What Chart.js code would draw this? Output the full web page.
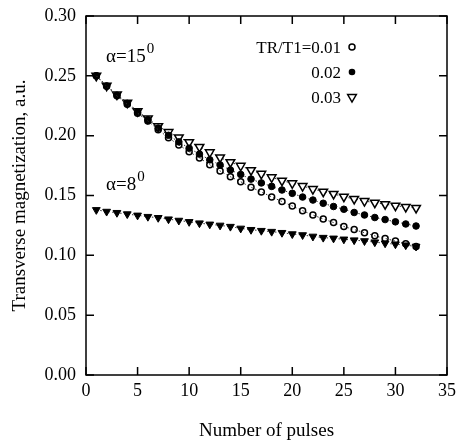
<!DOCTYPE html>
<html>
<head>
<meta charset="utf-8">
<script src="https://cdn.jsdelivr.net/npm/chart.js@4.4.0/dist/chart.umd.min.js"></script>
<style>
  html, body { margin: 0; padding: 0; background: #fff; }
</style>
</head>
<body>
<canvas id="chart" width="457" height="442"></canvas>
<script>
// Data
const pulses = [1, 2, 3, 4, 5, 6, 7, 8, 9, 10, 11, 12, 13, 14, 15, 16,
                17, 18, 19, 20, 21, 22, 23, 24, 25, 26, 27, 28, 29, 30, 31, 32];

// alpha = 15 deg, three TR/T1 ratios
const tr001 = [0.2500, 0.2412, 0.2333, 0.2262, 0.2188, 0.2122, 0.2050, 0.1982,
               0.1922, 0.1866, 0.1814, 0.1757, 0.1705, 0.1657, 0.1615, 0.1569,
               0.1530, 0.1488, 0.1450, 0.1412, 0.1373, 0.1337, 0.1304, 0.1274,
               0.1241, 0.1215, 0.1189, 0.1163, 0.1141, 0.1119, 0.1096, 0.1073];
const tr002 = [0.2500, 0.2415, 0.2338, 0.2270, 0.2197, 0.2133, 0.2063, 0.2003,
               0.1948, 0.1895, 0.1846, 0.1798, 0.1755, 0.1713, 0.1676, 0.1637,
               0.1605, 0.1576, 0.1546, 0.1518, 0.1487, 0.1462, 0.1435, 0.1408,
               0.1385, 0.1358, 0.1337, 0.1316, 0.1299, 0.1280, 0.1262, 0.1245];
const tr003 = [0.2500, 0.2418, 0.2343, 0.2276, 0.2205, 0.2143, 0.2078, 0.2030,
               0.1985, 0.1945, 0.1906, 0.1861, 0.1818, 0.1778, 0.1748, 0.1712,
               0.1681, 0.1652, 0.1624, 0.1602, 0.1579, 0.1554, 0.1532, 0.1513,
               0.1490, 0.1471, 0.1454, 0.1440, 0.1427, 0.1415, 0.1404, 0.1396];
// alpha = 8 deg
const alpha8 = [0.1380, 0.1366, 0.1356, 0.1345, 0.1334, 0.1323, 0.1314, 0.1302,
                0.1291, 0.1280, 0.1269, 0.1259, 0.1250, 0.1240, 0.1225, 0.1214,
                0.1206, 0.1198, 0.1189, 0.1178, 0.1170, 0.1158, 0.1148, 0.1142,
                0.1134, 0.1127, 0.1120, 0.1110, 0.1101, 0.1093, 0.1085, 0.1074];

const legendLabels = ['TR/T1=0.01', '0.02', '0.03'];
const xTicks = [0, 5, 10, 15, 20, 25, 30, 35];
const yTicks = [0, 0.05, 0.10, 0.15, 0.20, 0.25, 0.30];

const FONT = '"Liberation Serif", "Times New Roman", serif';

const toPoints = arr => arr.map((v, i) => ({ x: pulses[i], y: v }));

const lineStyle = {
    showLine: true,
    borderColor: '#333',
    borderWidth: 1,
    borderDash: [1.5, 2.5],
    pointBorderColor: '#000',
    pointHoverRadius: 0
};

// first dataset ends up on top
const datasets = [
    Object.assign({}, lineStyle, {
        label: 'alpha8', data: toPoints(alpha8),
        pointStyle: 'triangle', pointRotation: 180, pointRadius: 4.5,
        pointBackgroundColor: '#000', pointBorderWidth: 1
    }),
    Object.assign({}, lineStyle, {
        label: legendLabels[0], data: toPoints(tr001),
        pointStyle: 'circle', pointRadius: 3,
        pointBackgroundColor: 'rgba(255,255,255,0)', pointBorderWidth: 1.5
    }),
    Object.assign({}, lineStyle, {
        label: legendLabels[1], data: toPoints(tr002),
        pointStyle: 'circle', pointRadius: 3.3,
        pointBackgroundColor: '#000', pointBorderWidth: 1
    }),
    Object.assign({}, lineStyle, {
        label: legendLabels[2], data: toPoints(tr003),
        pointStyle: 'triangle', pointRotation: 180, pointRadius: 5,
        pointBackgroundColor: '#fff', pointBorderWidth: 1.5
    })
];

function drawMarker(ctx, type, x, y) {
    ctx.save();
    ctx.strokeStyle = '#000';
    ctx.beginPath();
    if (type === 'openCircle') {
        ctx.lineWidth = 1.5;
        ctx.fillStyle = '#fff';
        ctx.arc(x, y, 3, 0, Math.PI * 2);
        ctx.fill();
        ctx.stroke();
    } else if (type === 'filledCircle') {
        ctx.fillStyle = '#000';
        ctx.arc(x, y, 3.3, 0, Math.PI * 2);
        ctx.fill();
    } else {
        const r = 5;
        ctx.lineWidth = 1.5;
        ctx.fillStyle = '#fff';
        ctx.moveTo(x - r * 0.866, y - r * 0.5);
        ctx.lineTo(x + r * 0.866, y - r * 0.5);
        ctx.lineTo(x, y + r);
        ctx.closePath();
        ctx.fill();
        ctx.stroke();
    }
    ctx.restore();
}

// frame with inward ticks on all four sides, labels and legend
const framePlugin = {
    id: 'frame',
    afterDatasetsDraw(chart) {
        const { ctx, chartArea: a, scales } = chart;
        const tl = 8;
        ctx.save();
        ctx.strokeStyle = '#000';
        ctx.lineWidth = 1.5;
        ctx.strokeRect(a.left, a.top, a.right - a.left, a.bottom - a.top);
        ctx.beginPath();
        xTicks.forEach(v => {
            const px = scales.x.getPixelForValue(v);
            ctx.moveTo(px, a.bottom); ctx.lineTo(px, a.bottom - tl);
            ctx.moveTo(px, a.top); ctx.lineTo(px, a.top + tl);
        });
        yTicks.forEach(v => {
            const py = scales.y.getPixelForValue(v);
            ctx.moveTo(a.left, py); ctx.lineTo(a.left + tl, py);
            ctx.moveTo(a.right, py); ctx.lineTo(a.right - tl, py);
        });
        ctx.stroke();

        // alpha annotations
        ctx.fillStyle = '#000';
        ctx.textBaseline = 'alphabetic';
        ctx.textAlign = 'left';
        const annot = (txt, x, y) => {
            ctx.font = '19px ' + FONT;
            ctx.fillText(txt, x, y);
            const w = ctx.measureText(txt).width;
            ctx.font = '15px ' + FONT;
            ctx.fillText('0', x + w + 1, y - 9);
        };
        annot('\u03b1=15', 106, 62);
        annot('\u03b1=8', 106, 190);

        // legend
        ctx.font = '17px ' + FONT;
        ctx.textAlign = 'right';
        const lx = 341, mx = 352;
        const rows = [[legendLabels[0], 'openCircle', 53],
                      [legendLabels[1], 'filledCircle', 78],
                      [legendLabels[2], 'openTriangle', 103]];
        rows.forEach(([txt, type, y]) => {
            ctx.fillText(txt, lx, y);
            drawMarker(ctx, type, mx, y - 6);
        });
        ctx.restore();
    }
};

const noPad = s => {
    s.paddingLeft = 0; s.paddingRight = 0;
    s.paddingTop = 0; s.paddingBottom = 0;
};

new Chart(document.getElementById('chart'), {
    type: 'scatter',
    data: { datasets },
    options: {
        responsive: false,
        animation: false,
        events: [],
        layout: { padding: { top: 16, right: 10, left: 0, bottom: 0 } },
        plugins: { legend: { display: false }, tooltip: { enabled: false } },
        scales: {
            x: {
                type: 'linear', min: 0, max: 35,
                afterFit(s) { s.height = 67; noPad(s); },
                afterBuildTicks(s) { s.ticks = xTicks.map(v => ({ value: v })); },
                grid: { display: false, drawTicks: false },
                border: { display: false },
                ticks: { padding: 5, color: '#000', font: { family: FONT, size: 18 } },
                title: {
                    display: true, text: 'Number of pulses', color: '#000',
                    font: { family: FONT, size: 19 }, padding: { top: 0, bottom: 0 }
                }
            },
            y: {
                min: 0, max: 0.30,
                afterFit(s) { s.width = 86; noPad(s); },
                afterBuildTicks(s) { s.ticks = yTicks.map(v => ({ value: v })); },
                grid: { display: false, drawTicks: false },
                border: { display: false },
                ticks: {
                    padding: 10, color: '#000', font: { family: FONT, size: 18 },
                    callback: v => v.toFixed(2)
                },
                title: {
                    display: true, text: 'Transverse magnetization, a.u.', color: '#000',
                    font: { family: FONT, size: 19 }, padding: { top: 9, bottom: 0 }
                }
            }
        }
    },
    plugins: [framePlugin]
});
</script>
</body>
</html>
